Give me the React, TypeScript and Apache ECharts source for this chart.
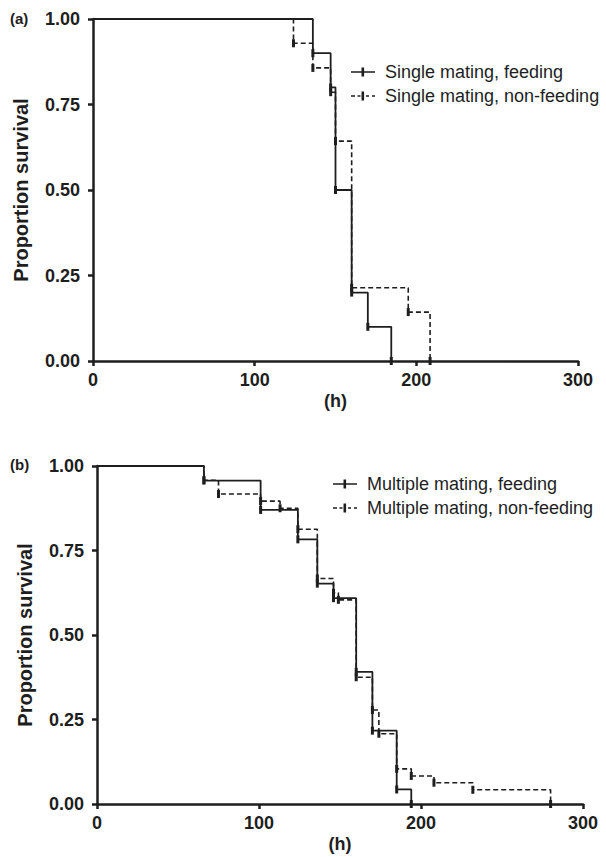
import React, { useEffect, useRef } from "react";
import * as echarts from "echarts";

// Panel (a): single mating
const tA_feed = [0, 136, 147, 150, 160, 170, 184.5];
const sA_feed = [1, 0.9, 0.8, 0.5, 0.2, 0.1, 0];
const tA_non = [0, 124, 136, 147, 150, 160, 195, 208.5];
const sA_non = [1, 0.929, 0.857, 0.786, 0.643, 0.214, 0.143, 0];

// Panel (b): multiple mating
const tB_feed = [0, 66, 101, 124, 136, 146, 160, 170, 185, 194];
const sB_feed = [1, 0.957, 0.87, 0.783, 0.652, 0.609, 0.391, 0.217, 0.043, 0];
const tB_non = [0, 66, 75, 101, 113, 124, 136, 146, 149, 160, 170, 174, 185, 194, 208, 232, 280];
const sB_non = [1, 0.958, 0.917, 0.896, 0.875, 0.813, 0.667, 0.625, 0.604, 0.375, 0.278, 0.208, 0.104, 0.083, 0.063, 0.042, 0];

const xTicks = [0, 100, 200, 300];
const yTicks = [0, 0.25, 0.5, 0.75, 1];

const namesA = ["Single mating, feeding", "Single mating, non-feeding"];
const namesB = ["Multiple mating, feeding", "Multiple mating, non-feeding"];
const panelLabels = ["(a)", "(b)"];

const FONT = "'Liberation Sans', Arial, Helvetica, sans-serif";
const INK = "#1e1e1e";

// legend icons: line with a small vertical marker (last sub-path only widens the box)
const ICON_SOLID = "path://M0,3.7h24v1.6h-24z M10.5,0h2.6v9h-2.6z M29,4.5L29,4.5";
const ICON_DASHED =
  "path://M0,3.7h4v1.6h-4z M6.5,3.7h3v1.6h-3z M10.5,0h2.6v9h-2.6z M15,3.7h3v1.6h-3z M21,3.7h3v1.6h-3z M29,4.5L29,4.5";

function toData(t: number[], s: number[]) {
  return t.map((x, i) =>
    i === 0 ? { value: [x, s[i]], symbol: "none" } : { value: [x, s[i]] }
  );
}

function xAxis(gridIndex: number) {
  return {
    type: "value",
    gridIndex,
    min: xTicks[0],
    max: xTicks[xTicks.length - 1],
    interval: 100,
    name: "(h)",
    nameLocation: "middle",
    nameGap: 31,
    nameTextStyle: { fontFamily: FONT, fontWeight: "bold", fontSize: 18, color: INK },
    axisLine: { show: true, onZero: false, lineStyle: { color: INK, width: 2.5 } },
    axisTick: { show: true, length: 5, lineStyle: { color: INK, width: 2.5 } },
    axisLabel: { fontFamily: FONT, fontWeight: "bold", fontSize: 18, color: INK, margin: 10 },
    splitLine: { show: false },
  };
}

function yAxis(gridIndex: number) {
  return {
    type: "value",
    gridIndex,
    min: yTicks[0],
    max: yTicks[yTicks.length - 1],
    interval: 0.25,
    name: "Proportion survival",
    nameLocation: "middle",
    nameRotate: 90,
    nameGap: 62,
    nameTextStyle: { fontFamily: FONT, fontWeight: "bold", fontSize: 20, color: INK },
    axisLine: { show: true, onZero: false, lineStyle: { color: INK, width: 2.5 } },
    axisTick: { show: true, length: 5, lineStyle: { color: INK, width: 2.5 } },
    axisLabel: {
      fontFamily: FONT,
      fontWeight: "bold",
      fontSize: 18,
      color: INK,
      margin: 13,
      formatter: (v: number) => v.toFixed(2),
    },
    splitLine: { show: false },
  };
}

function series(name: string, idx: number, t: number[], s: number[], dashed: boolean) {
  return {
    name,
    type: "line",
    step: "end",
    xAxisIndex: idx,
    yAxisIndex: idx,
    data: toData(t, s),
    symbol: "rect",
    symbolSize: [3, 8],
    showSymbol: true,
    itemStyle: { color: INK },
    lineStyle: { color: INK, width: dashed ? 1.6 : 1.8, type: dashed ? [5, 3] : "solid" },
    z: dashed ? 2 : 3,
  };
}

export default function App() {
  const ref = useRef<HTMLDivElement>(null);
  useEffect(() => {
    if (!ref.current) return;
    const chart = echarts.init(ref.current, undefined, { renderer: "svg" });
    const legendText = { fontFamily: FONT, fontSize: 18, color: INK };
    const legendCommon = {
      orient: "vertical",
      padding: 0,
      itemWidth: 29,
      itemHeight: 9,
      itemGap: 6,
      textStyle: legendText,
      selectedMode: false,
    };
    chart.setOption({
      animation: false,
      backgroundColor: "#fff",
      grid: [
        { left: 93, top: 19, width: 485, height: 342 },
        { left: 97, top: 466, width: 486, height: 338 },
      ],
      xAxis: [xAxis(0), xAxis(1)],
      yAxis: [yAxis(0), yAxis(1)],
      legend: [
        {
          ...legendCommon,
          data: [
            { name: namesA[0], icon: ICON_SOLID },
            { name: namesA[1], icon: ICON_DASHED },
          ],
          left: 351,
          top: 63,
        },
        {
          ...legendCommon,
          data: [
            { name: namesB[0], icon: ICON_SOLID },
            { name: namesB[1], icon: ICON_DASHED },
          ],
          left: 333,
          top: 475,
        },
      ],
      graphic: [
        {
          type: "text",
          left: 10,
          top: 11,
          style: { text: panelLabels[0], font: `bold 15px ${FONT}`, fill: INK },
        },
        {
          type: "text",
          left: 10,
          top: 457,
          style: { text: panelLabels[1], font: `bold 15px ${FONT}`, fill: INK },
        },
      ],
      series: [
        series(namesA[0], 0, tA_feed, sA_feed, false),
        series(namesA[1], 0, tA_non, sA_non, true),
        series(namesB[0], 1, tB_feed, sB_feed, false),
        series(namesB[1], 1, tB_non, sB_non, true),
      ],
    });
    return () => chart.dispose();
  }, []);
  return (
    <div
      ref={ref}
      style={{ position: "absolute", left: 0, top: 0, width: 606, height: 857 }}
    />
  );
}
